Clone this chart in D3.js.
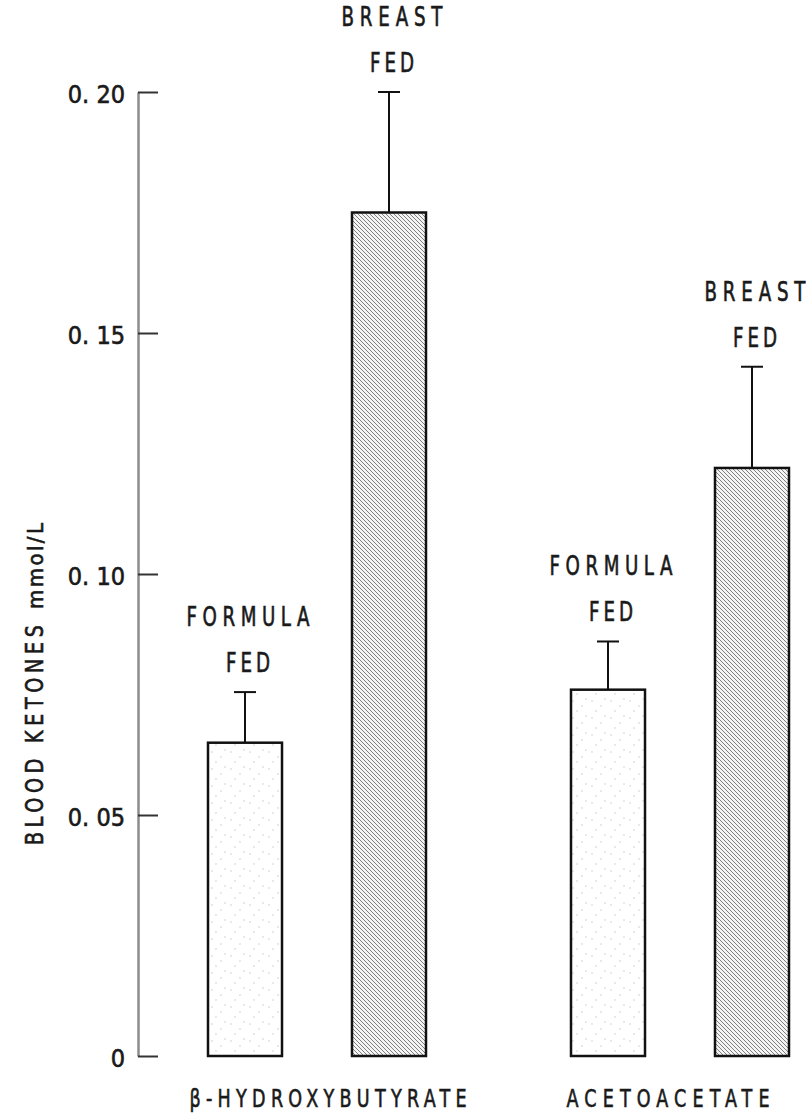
<!DOCTYPE html>
<html>
<head>
<meta charset="utf-8">
<script src="https://cdn.jsdelivr.net/npm/d3@7/dist/d3.min.js"></script>
<style>
  html, body { margin: 0; padding: 0; background: #fff; }
  svg { display: block; }
  text { font-family: "DejaVu Sans Condensed", "DejaVu Sans", sans-serif; fill: #1a1a1a;
         stroke: #1a1a1a; stroke-width: 0.6px; }
</style>
</head>
<body>
<svg id="chart" width="806" height="1115"></svg>
<script>
// Blood ketone concentrations (mmol/L), formula-fed vs breast-fed infants
const categories = ["β-HYDROXYBUTYRATE", "ACETOACETATE"];
const series = ["FORMULA", "BREAST"];
const formulaMeans = [0.065, 0.076];
const formulaErrors = [0.0105, 0.010];
const breastMeans = [0.175, 0.122];
const breastErrors = [0.025, 0.021];
const yTicks = [0, 0.05, 0.10, 0.15, 0.20];
const yTickLabels = ["0", "0. 05", "0. 10", "0. 15", "0. 20"];
const yTitle = "BLOOD KETONES";
const yUnit = "mmol/L";

const rows = [];
categories.forEach((c, i) => {
  rows.push({ cat: c, ser: "FORMULA", value: formulaMeans[i], err: formulaErrors[i] });
  rows.push({ cat: c, ser: "BREAST", value: breastMeans[i], err: breastErrors[i] });
});

const svg = d3.select("#chart");
const defs = svg.append("defs");

// fine diagonal hatching for breast-fed bars
const hatch = defs.append("pattern")
  .attr("id", "hatch").attr("patternUnits", "userSpaceOnUse")
  .attr("width", 4).attr("height", 4);
hatch.append("rect").attr("width", 4).attr("height", 4).attr("fill", "#f4f4f4");
hatch.append("path").attr("d", "M0,0L4,4M-1,3L1,5M3,-1L5,1")
  .attr("stroke", "#808080").attr("stroke-width", 1);

// sparse stipple for formula-fed bars
const stip = defs.append("pattern")
  .attr("id", "stipple").attr("patternUnits", "userSpaceOnUse")
  .attr("width", 19).attr("height", 17);
stip.append("rect").attr("width", 19).attr("height", 17).attr("fill", "#fff");
[[3, 4], [12, 9], [7, 14], [16, 2]].forEach(([cx, cy]) =>
  stip.append("circle").attr("cx", cx).attr("cy", cy).attr("r", 0.7).attr("fill", "#c4c4c4"));

const y = d3.scaleLinear().domain([0, 0.20]).range([1056, 92]);
const xCat = d3.scalePoint().domain(categories).range([317, 680]);
const xSer = d3.scaleBand().domain(series).range([-109, 109]).paddingInner(0.486);
const barX = d => xCat(d.cat) + xSer(d.ser);
const barC = d => barX(d) + xSer.bandwidth() / 2;

// y axis with inward ticks, labels on the left
const axis = d3.axisLeft(y)
  .tickValues(yTicks)
  .tickFormat((d, i) => yTickLabels[i])
  .tickSizeInner(-20).tickSizeOuter(0).tickPadding(13);
const gAxis = svg.append("g").attr("transform", "translate(138,0)").call(axis);
gAxis.select(".domain").attr("stroke", "#8c8c8c").attr("stroke-width", 2.5);
gAxis.selectAll(".tick line").attr("stroke", "#333").attr("stroke-width", 2);
gAxis.selectAll(".tick text")
  .attr("font-family", "DejaVu Sans Condensed, DejaVu Sans, sans-serif")
  .attr("font-size", 25).attr("fill", "#1a1a1a").attr("dy", "0.42em");

// bars
svg.append("g").selectAll("rect").data(rows).join("rect")
  .attr("x", barX)
  .attr("y", d => y(d.value))
  .attr("width", xSer.bandwidth())
  .attr("height", d => y(0) - y(d.value))
  .attr("fill", d => d.ser === "BREAST" ? "url(#hatch)" : "url(#stipple)")
  .attr("stroke", "#111").attr("stroke-width", 2.5);

// error bars (upper only)
const gErr = svg.append("g").attr("stroke", "#111").attr("stroke-width", 2);
gErr.selectAll("line.v").data(rows).join("line").attr("class", "v")
  .attr("x1", barC).attr("x2", barC)
  .attr("y1", d => y(d.value)).attr("y2", d => y(d.value + d.err));
gErr.selectAll("line.c").data(rows).join("line").attr("class", "c")
  .attr("x1", d => barC(d) - 11).attr("x2", d => barC(d) + 11)
  .attr("y1", d => y(d.value + d.err)).attr("y2", d => y(d.value + d.err));

// condensed text helper: narrow glyphs, spacing stretched to a set width
function label(g, txt, cx, baseY, width, size) {
  const sx = 0.78;
  g.append("text")
    .attr("transform", `translate(${cx},${baseY}) scale(${sx},1)`)
    .attr("text-anchor", "middle")
    .attr("font-size", size)
    .attr("textLength", width / sx)
    .attr("lengthAdjust", "spacing")
    .text(txt);
}

// group labels above each error bar
const gLab = svg.append("g");
rows.forEach(d => {
  const top = y(d.value + d.err);
  const cx = barC(d) + 3;
  label(gLab, d.ser, cx, top - 20 - 46, d.ser === "BREAST" ? 101 : 123, 26);
  label(gLab, "FED", cx, top - 20, 44, 26);
});

// category labels under the baseline
const catShift = [11, -12];
const catWidth = [277, 203];
categories.forEach((c, i) => {
  label(gLab, c, xCat(c) + catShift[i], 1107, catWidth[i], 25);
});

// rotated y title
const gT = svg.append("g").attr("transform", "translate(43,845) rotate(-90)");
gT.append("text")
  .attr("transform", "scale(0.85,1)")
  .attr("font-size", 25)
  .attr("textLength", 220 / 0.85).attr("lengthAdjust", "spacing")
  .text(yTitle);
gT.append("text").attr("x", 236).attr("y", 0)
  .attr("font-size", 22)
  .attr("textLength", 86).attr("lengthAdjust", "spacing")
  .text(yUnit);
</script>
</body>
</html>
